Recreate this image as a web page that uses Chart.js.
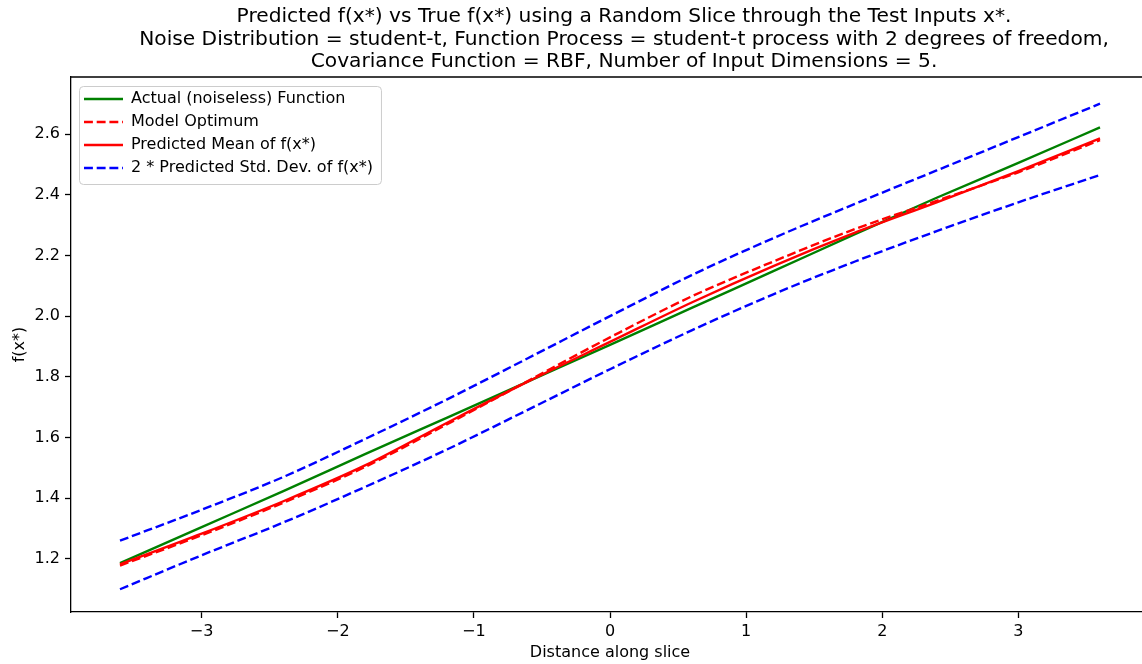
<!DOCTYPE html>
<html>
<head>
<meta charset="utf-8">
<title>Predicted f(x*) vs True f(x*)</title>
<script src="https://cdn.jsdelivr.net/npm/chart.js@4.4.1/dist/chart.umd.min.js"></script>
<style>
  html, body { margin: 0; padding: 0; background: #fff; overflow: hidden; }
  #wrap { width: 1248px; height: 664px; }
</style>
</head>
<body>
<div id="wrap"><canvas id="sliceChart" width="1248" height="664"></canvas></div>
<script>
// distance along the slice (x*) and the curves
const xs        = [-3.6, -3.0, -2.4, -1.8, -1.2, -0.6, 0.0, 0.6, 1.2, 1.8, 2.4, 3.0, 3.6];
const actual    = [1.186, 1.305, 1.423, 1.545, 1.665, 1.785, 1.905, 2.027, 2.148, 2.270, 2.390, 2.505, 2.622];
const optimum   = [1.178, 1.278, 1.385, 1.503, 1.643, 1.787, 1.930, 2.065, 2.180, 2.287, 2.380, 2.474, 2.580];
const predMean  = [1.182, 1.283, 1.390, 1.508, 1.648, 1.785, 1.915, 2.045, 2.165, 2.275, 2.375, 2.478, 2.586];
const upperBand = [1.260, 1.362, 1.470, 1.595, 1.725, 1.862, 2.000, 2.135, 2.257, 2.370, 2.480, 2.590, 2.700];
const lowerBand = [1.100, 1.212, 1.320, 1.437, 1.560, 1.692, 1.825, 1.953, 2.072, 2.180, 2.280, 2.375, 2.465];

const xTicks = [-3, -2, -1, 0, 1, 2, 3];
const yTicks = [1.2, 1.4, 1.6, 1.8, 2.0, 2.2, 2.4, 2.6];

const titleLines = [
  "Predicted f(x*) vs True f(x*) using a Random Slice through the Test Inputs x*.",
  "Noise Distribution = student-t, Function Process = student-t process with 2 degrees of freedom,",
  "Covariance Function = RBF, Number of Input Dimensions = 5."
];

const FONT = "'DejaVu Sans', sans-serif";
const LW = 2.4;
const DASH = [8.9, 3.8];

Chart.defaults.font.family = FONT;
Chart.defaults.color = "#000";

const pts = (ys) => xs.map((x, i) => ({ x: x, y: ys[i] }));

// legend sits a little inside the axes, like matplotlib's
const legendNudge = {
  id: "legendNudge",
  afterLayout(chart) {
    const lg = chart.legend;
    lg.left = chart.chartArea.left + 6;
    lg.top = chart.chartArea.top + 7;
  },
};

const frame = {
  id: "frame",
  beforeDraw(chart) {
    const { ctx } = chart;
    ctx.save();
    ctx.fillStyle = "#fff";
    ctx.fillRect(0, 0, chart.width, chart.height);

    // legend box
    const lg = chart.legend;
    const o = lg.options.labels;
    const pad = o.padding, fs = o.font.size, bw = o.pointStyleWidth;
    ctx.font = fs + "px " + FONT;
    let maxW = 0;
    lg.legendItems.forEach((it) => { maxW = Math.max(maxW, ctx.measureText(it.text).width); });
    const x0 = lg.left + pad - 5;
    const firstMid = lg.top + pad + fs / 2;
    const lastMid = firstMid + (lg.legendItems.length - 1) * (fs + pad);
    const x1 = lg.left + pad + bw + fs / 2 + maxW + 8;
    const y0 = firstMid - 13, y1 = lastMid + 16;
    ctx.beginPath();
    ctx.roundRect(x0 + 0.5, y0 + 0.5, x1 - x0, y1 - y0, 4);
    ctx.fillStyle = "rgba(255,255,255,0.8)";
    ctx.fill();
    ctx.strokeStyle = "#cccccc";
    ctx.lineWidth = 1;
    ctx.stroke();
    ctx.restore();
  },
  afterDraw(chart) {
    const { ctx, chartArea: a } = chart;
    ctx.save();
    ctx.strokeStyle = "#000";
    ctx.lineWidth = 1.3;
    ctx.beginPath();
    ctx.moveTo(a.left, a.top);
    ctx.lineTo(a.right, a.top);
    ctx.lineTo(a.right, a.bottom);
    ctx.stroke();
    ctx.restore();
  },
};

const line = (label, ys, color, dashed, order) => ({
  label: label,
  data: pts(ys),
  borderColor: color,
  backgroundColor: color,
  borderWidth: LW,
  borderDash: dashed ? DASH : [],
  pointRadius: 0,
  cubicInterpolationMode: "monotone",
  fill: false,
  order: order,
});

const ctx = document.getElementById("sliceChart").getContext("2d");
const sliceChart = new Chart(ctx, {
  type: "line",
  data: {
    datasets: [
      line("Actual (noiseless) Function", actual, "#008000", false, 3),
      line("Model Optimum", optimum, "#ff0000", true, 2),
      line("Predicted Mean of f(x*)", predMean, "#ff0000", false, 1),
      line("2 * Predicted Std. Dev. of f(x*)", upperBand, "#0000ff", true, 0),
      line("2 * Predicted Std. Dev. of f(x*)", lowerBand, "#0000ff", true, 0),
    ],
  },
  options: {
    responsive: false,
    animation: false,
    layout: { padding: 0 },
    scales: {
      x: {
        type: "linear",
        min: -3.96,
        max: 3.96,
        afterFit: (s) => { s.height = 52; },
        afterBuildTicks: (s) => { s.ticks = xTicks.map((v) => ({ value: v })); },
        border: { display: true, color: "#000", width: 1.3 },
        grid: { drawOnChartArea: false, drawTicks: true, tickLength: 6, tickColor: "#000", tickWidth: 1.3 },
        ticks: {
          padding: 4,
          maxRotation: 0,
          font: { size: 16 },
          callback: (v) => (v < 0 ? "\u2212" + Math.abs(v) : String(v)),
        },
        title: {
          display: true,
          text: "Distance along slice",
          font: { size: 16 },
          padding: { top: 0, bottom: 1.4 },
        },
      },
      y: {
        type: "linear",
        min: 1.025,
        max: 2.788,
        afterFit: (s) => { s.width = 71; },
        afterBuildTicks: (s) => { s.ticks = yTicks.map((v) => ({ value: v })); },
        border: { display: true, color: "#000", width: 1.3 },
        grid: { drawOnChartArea: false, drawTicks: true, tickLength: 6, tickColor: "#000", tickWidth: 1.3 },
        ticks: {
          padding: 5,
          font: { size: 16 },
          callback: (v) => v.toFixed(1),
        },
        title: {
          display: true,
          text: "f(x*)",
          font: { size: 16 },
          padding: { top: 10.4, bottom: 0 },
        },
      },
      // empty right-hand box so the axes end past the window edge
      spacer: {
        type: "linear",
        position: "right",
        afterFit: (s) => { s.width = 99; },
        border: { display: false },
        grid: { display: false },
        ticks: { display: false },
      },
    },
    plugins: {
      title: {
        display: true,
        text: titleLines,
        color: "#000",
        font: { size: 20.2, weight: "normal", lineHeight: "22.5px" },
        padding: { top: 6, bottom: 3.5 },
      },
      legend: {
        position: "chartArea",
        align: "start",
        labels: {
          usePointStyle: true,
          pointStyle: "line",
          pointStyleWidth: 39,
          padding: 7,
          font: { size: 16 },
          color: "#000",
          generateLabels: (chart) =>
            Chart.defaults.plugins.legend.labels.generateLabels(chart).map((item) => {
              item.lineDash = chart.data.datasets[item.datasetIndex].borderDash;
              return item;
            }),
          filter: (item) => item.datasetIndex !== 4,
          sort: (a, b) => a.datasetIndex - b.datasetIndex,
        },
      },
      tooltip: { enabled: false },
    },
  },
  plugins: [legendNudge, frame],
});
</script>
</body>
</html>
